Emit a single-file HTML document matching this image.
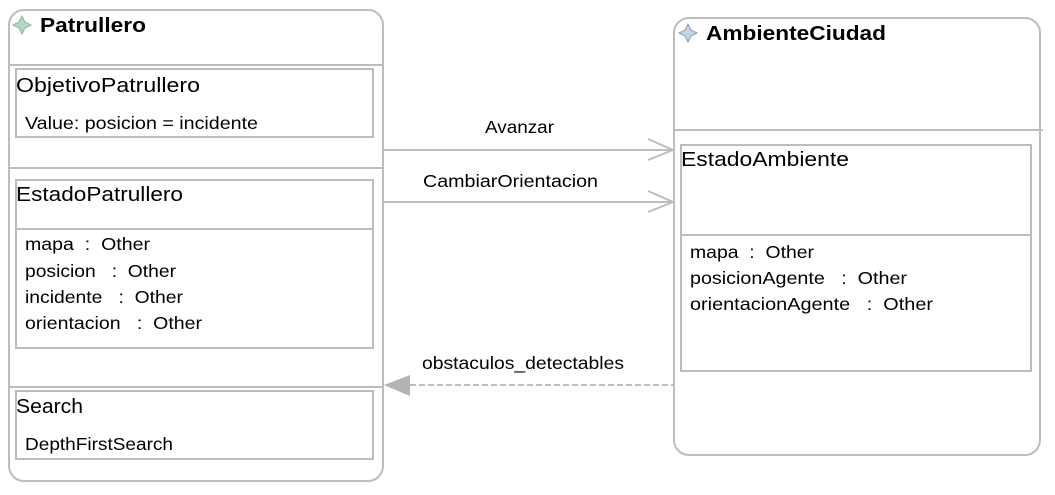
<!DOCTYPE html>
<html><head><meta charset="utf-8"><style>
html,body{margin:0;padding:0;background:#fff;width:1055px;height:495px;overflow:hidden}
svg{display:block}
text{font-family:"Liberation Sans",sans-serif;fill:#000;white-space:pre}
.t{font-size:20px}
.a{font-size:17.5px}
.b{font-size:20px;font-weight:bold}
</style></head><body>
<svg width="1055" height="495" viewBox="0 0 1055 495" xmlns="http://www.w3.org/2000/svg" xml:space="preserve">
<g fill="none" stroke="#bdbdbd" stroke-width="2">
<rect x="9" y="10" width="374" height="471" rx="15"/>
<line x1="9" y1="65" x2="383" y2="65"/>
<rect x="16" y="69" width="357" height="68"/>
<line x1="9" y1="168" x2="383" y2="168"/>
<rect x="16" y="180" width="357" height="168"/>
<line x1="16" y1="229" x2="373" y2="229"/>
<line x1="9" y1="387" x2="383" y2="387"/>
<rect x="16" y="391" width="357" height="68"/>
<rect x="674" y="18" width="366" height="437" rx="15"/>
<line x1="674" y1="130" x2="1043" y2="130"/>
<rect x="681" y="145" width="350" height="226"/>
<line x1="681" y1="235" x2="1031" y2="235"/>
<line x1="383" y1="150" x2="673" y2="150"/>
<polyline points="648,139 673,150 648,160"/>
<line x1="383" y1="202" x2="673" y2="202"/>
<polyline points="648,191 673,202 648,212"/>
<line x1="410" y1="385" x2="673" y2="385" stroke-dasharray="6,3"/>
</g>
<polygon points="384,385 410,375 410,396" fill="#b3b3b3"/>
<g>
<path d="M22,16 L25,22 L31,25 L25,28 L22,34 L19,28 L13,25 L19,22Z" fill="#b5d6c4" stroke="#8bb79f" stroke-width="1"/>
<path d="M688,24 L691,30 L697,33 L691,36 L688,42 L685,36 L679,33 L685,30Z" fill="#c5d2e0" stroke="#8aa0b8" stroke-width="1"/>
</g>
<text class="b" x="40" y="32" textLength="106" lengthAdjust="spacingAndGlyphs">Patrullero</text>
<text class="t" x="16" y="92" textLength="184" lengthAdjust="spacingAndGlyphs">ObjetivoPatrullero</text>
<text class="a" x="25" y="129" textLength="233" lengthAdjust="spacingAndGlyphs">Value: posicion = incidente</text>
<text class="t" x="16" y="201" textLength="167" lengthAdjust="spacingAndGlyphs">EstadoPatrullero</text>
<text class="a" x="25" y="250" textLength="125" lengthAdjust="spacingAndGlyphs">mapa  :  Other</text>
<text class="a" x="25" y="277" textLength="151" lengthAdjust="spacingAndGlyphs">posicion   :  Other</text>
<text class="a" x="25" y="303" textLength="158" lengthAdjust="spacingAndGlyphs">incidente   :  Other</text>
<text class="a" x="25" y="329" textLength="177" lengthAdjust="spacingAndGlyphs">orientacion   :  Other</text>
<text class="t" x="16" y="413" textLength="67" lengthAdjust="spacingAndGlyphs">Search</text>
<text class="a" x="25" y="450" textLength="148" lengthAdjust="spacingAndGlyphs">DepthFirstSearch</text>
<text class="b" x="706" y="40" textLength="180" lengthAdjust="spacingAndGlyphs">AmbienteCiudad</text>
<text class="t" x="681" y="166" textLength="168" lengthAdjust="spacingAndGlyphs">EstadoAmbiente</text>
<text class="a" x="690" y="258" textLength="124" lengthAdjust="spacingAndGlyphs">mapa  :  Other</text>
<text class="a" x="690" y="284" textLength="217" lengthAdjust="spacingAndGlyphs">posicionAgente   :  Other</text>
<text class="a" x="690" y="310" textLength="243" lengthAdjust="spacingAndGlyphs">orientacionAgente   :  Other</text>
<text class="a" x="485" y="133" textLength="69" lengthAdjust="spacingAndGlyphs">Avanzar</text>
<text class="a" x="423" y="187" textLength="175" lengthAdjust="spacingAndGlyphs">CambiarOrientacion</text>
<text class="a" x="422" y="369" textLength="202" lengthAdjust="spacingAndGlyphs">obstaculos_detectables</text>
</svg>
</body></html>
